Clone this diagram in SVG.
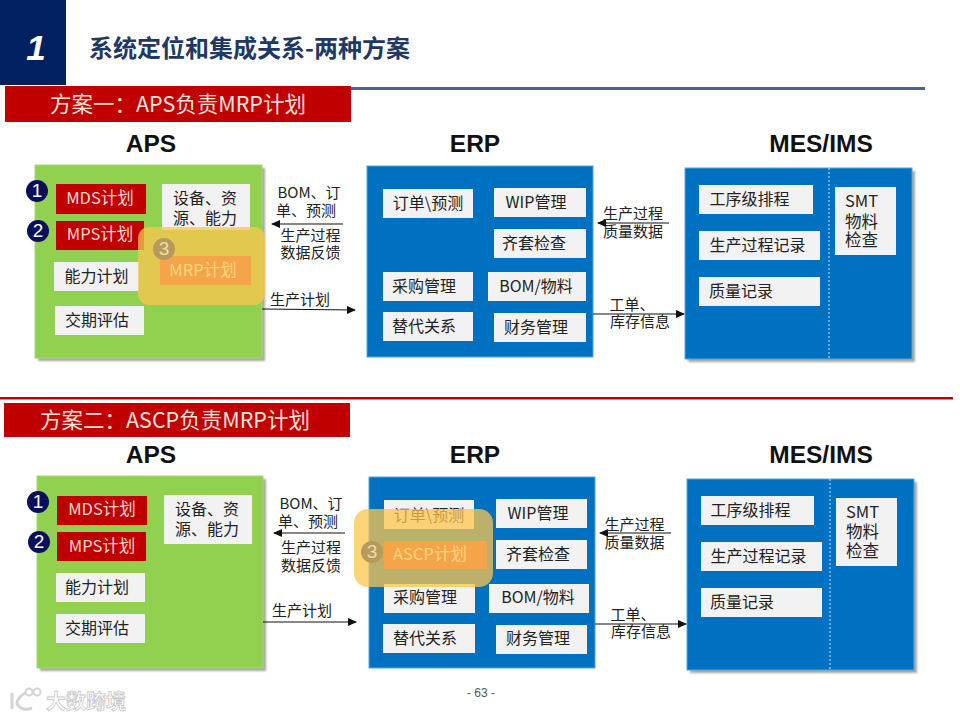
<svg xmlns="http://www.w3.org/2000/svg" width="960" height="720" viewBox="0 0 960 720">
<style>
text{font-family:"Liberation Sans","Noto Sans CJK SC",sans-serif}
.cjk{font-family:"Noto Sans CJK SC","Liberation Sans",sans-serif}
.h{font-size:24.5px;font-weight:700;fill:#111;text-anchor:middle;font-family:"Liberation Sans",sans-serif}
.banner{fill:#c00000}
.bt{font-size:21.5px;fill:#f6e3dc;font-family:"Noto Sans CJK SC",sans-serif}
.g{fill:#92d050;stroke:#a4d878;stroke-width:1}
.b{fill:#0070c0;stroke:#55a5d8;stroke-width:1}
.sh{fill:#7f8478;opacity:.7;filter:url(#blur)}
.w{fill:#f2f2f2}
.r{fill:#c00000}
.t{font-size:16px;fill:#222;text-anchor:middle;font-family:"Noto Sans CJK SC",sans-serif}
.tl{font-size:16.5px;fill:#222;font-family:"Noto Sans CJK SC",sans-serif}
.tr{font-size:16.5px;fill:#f8d8d0;text-anchor:middle;font-family:"Noto Sans CJK SC",sans-serif}
.to{font-size:16.5px;fill:#fff;text-anchor:middle;font-family:"Noto Sans CJK SC",sans-serif}
.l{font-size:15px;fill:#222;text-anchor:middle;font-family:"Noto Sans CJK SC",sans-serif}
.n{fill:#0a0f5c}
.nt{font-size:19px;fill:#fff;text-anchor:middle;font-family:"Liberation Sans",sans-serif}
.ov{fill:#fcc64e;opacity:.75}
.conn{stroke:#111;stroke-width:1.1;fill:none;marker-end:url(#a)}
.d{stroke:#cfe3f2;stroke-width:1;stroke-dasharray:2 2}
</style>
<defs>
<marker id="a" markerWidth="9" markerHeight="8" refX="8" refY="4" orient="auto" markerUnits="userSpaceOnUse"><path d="M0 0L9 4L0 8z" fill="#111"/></marker>
<filter id="blur" x="-5%" y="-5%" width="110%" height="110%"><feGaussianBlur stdDeviation="1"/></filter>
</defs>
<rect width="960" height="720" fill="#fff"/>

<g id="header">
<rect x="0" y="0" width="66" height="85" fill="#002060"/>
<text x="36" y="60" font-size="35" font-weight="700" font-style="italic" fill="#fff" text-anchor="middle">1</text>
<text x="89" y="57" font-size="24" font-weight="700" fill="#1f3864" class="cjk">系统定位和集成关系-两种方案</text>
<rect x="351" y="87" width="574" height="3" fill="#4a6199"/>
</g>
<g id="banner1"><rect class="banner" x="5" y="86" width="346" height="36"/><text class="bt" x="50" y="112">方案一：APS负责MRP计划</text></g>
<g id="divider"><rect x="0" y="397" width="953" height="2.5" fill="#c00000"/></g>
<g id="banner2"><rect class="banner" x="4" y="403" width="346" height="34"/><text class="bt" x="40" y="428">方案二：ASCP负责MRP计划</text></g>
<g id="titles">
<text class="h" x="151" y="152">APS</text><text class="h" x="475" y="152">ERP</text><text class="h" x="821" y="152">MES/IMS</text>
<text class="h" x="151" y="463">APS</text><text class="h" x="475" y="463">ERP</text><text class="h" x="821" y="463">MES/IMS</text>
</g>

<g id="aps1">
<rect class="sh" x="38" y="168" width="227" height="193"/><rect class="g" x="35" y="165" width="227" height="193"/>
<g id="aps1-mds"><rect class="r" x="56" y="184" width="90" height="30"/><text class="tr" x="100" y="204">MDS计划</text></g>
<g id="aps1-mps"><rect class="r" x="56" y="221" width="88" height="29"/><text class="tr" x="100" y="240">MPS计划</text></g>
<g id="aps1-cap"><rect class="w" x="54" y="262" width="85" height="29"/><text class="t" x="96.500" y="282">能力计划</text></g>
<g id="aps1-due"><rect class="w" x="55" y="306" width="89" height="29"/><text class="t" x="97" y="326">交期评估</text></g>
<g id="aps1-res"><rect class="w" x="162" y="184" width="88" height="46"/><text class="t" x="205" y="204">设备、资</text><text class="t" x="205" y="224">源、能力</text></g>
<g id="aps1-mrp"><rect fill="#e04242" x="160" y="256" width="91" height="29"/><text class="to" x="203" y="276">MRP计划</text></g>
<g id="aps1-highlight"><rect class="ov" x="138" y="227" width="127" height="78" rx="11"/></g>
<g id="aps1-badge1"><circle class="n" cx="37" cy="191" r="11"/><text class="nt" x="37" y="197">1</text></g>
<g id="aps1-badge2"><circle class="n" cx="38" cy="231" r="11"/><text class="nt" x="38" y="237">2</text></g>
<g id="aps1-badge3"><circle cx="164" cy="249" r="11" fill="#b59a5e"/><text class="nt" x="164" y="255" style="fill:#f3dca0">3</text></g>
</g>

<g id="erp1">
<rect class="b" x="367" y="166" width="226" height="191"/>
<g id="erp1-order"><rect class="w" x="383" y="189" width="90" height="29"/><text class="t" x="428" y="209">订单\预测</text></g>
<g id="erp1-wip"><rect class="w" x="494" y="188" width="92" height="29"/><text class="t" x="536" y="208">WIP管理</text></g>
<g id="erp1-kit"><rect class="w" x="494" y="229" width="92" height="29"/><text class="t" x="534" y="249">齐套检查</text></g>
<g id="erp1-buy"><rect class="w" x="383" y="272" width="90" height="29"/><text class="t" x="424" y="292">采购管理</text></g>
<g id="erp1-bom"><rect class="w" x="488" y="272" width="98" height="29"/><text class="t" x="536" y="292">BOM/物料</text></g>
<g id="erp1-sub"><rect class="w" x="383" y="312" width="90" height="29"/><text class="t" x="424" y="332">替代关系</text></g>
<g id="erp1-fin"><rect class="w" x="494" y="313" width="92" height="29"/><text class="t" x="536" y="333">财务管理</text></g>
</g>

<g id="mes1">
<rect class="sh" x="688" y="171" width="227" height="191"/><rect class="b" x="685" y="168" width="227" height="191"/>
<line class="d" x1="829" y1="168" x2="829" y2="359"/>
<g id="mes1-op"><rect class="w" x="699" y="185" width="114" height="29"/><text class="t" x="749.500" y="205">工序级排程</text></g>
<g id="mes1-rec"><rect class="w" x="699" y="231" width="121" height="29"/><text class="t" x="757.500" y="251">生产过程记录</text></g>
<g id="mes1-q"><rect class="w" x="699" y="277" width="121" height="29"/><text class="t" x="741" y="297">质量记录</text></g>
<g id="mes1-smt"><rect class="w" x="835" y="187" width="61" height="68"/><text class="tl" x="845" y="207">SMT</text><text class="tl" x="845" y="228">物料</text><text class="tl" x="845" y="246">检查</text></g>
</g>

<g id="aps2">
<rect class="sh" x="40" y="479" width="226" height="192"/><rect class="g" x="37" y="476" width="226" height="192"/>
<g id="aps2-mds"><rect class="r" x="57" y="496" width="90" height="29"/><text class="tr" x="102" y="515">MDS计划</text></g>
<g id="aps2-mps"><rect class="r" x="57" y="532" width="89" height="29"/><text class="tr" x="102" y="552">MPS计划</text></g>
<g id="aps2-cap"><rect class="w" x="56" y="573" width="89" height="29"/><text class="t" x="97" y="593">能力计划</text></g>
<g id="aps2-due"><rect class="w" x="56" y="614" width="89" height="29"/><text class="t" x="97" y="634">交期评估</text></g>
<g id="aps2-res"><rect class="w" x="164" y="495" width="88" height="49"/><text class="t" x="207" y="515">设备、资</text><text class="t" x="207" y="535">源、能力</text></g>
<g id="aps2-badge1"><circle class="n" cx="38" cy="502" r="11"/><text class="nt" x="38" y="508">1</text></g>
<g id="aps2-badge2"><circle class="n" cx="39" cy="542" r="11"/><text class="nt" x="39" y="548">2</text></g>
</g>

<g id="erp2">
<rect class="b" x="369" y="477" width="226" height="191"/>
<g id="erp2-order"><rect class="w" x="384" y="500" width="90" height="29"/><text class="t" x="429" y="521">订单\预测</text></g>
<g id="erp2-wip"><rect class="w" x="496" y="499" width="91" height="29"/><text class="t" x="538" y="519">WIP管理</text></g>
<g id="erp2-kit"><rect class="w" x="496" y="540" width="91" height="29"/><text class="t" x="538" y="560">齐套检查</text></g>
<g id="erp2-ascp"><rect fill="#e04242" x="384" y="541" width="103" height="28"/><text class="to" x="430" y="560">ASCP计划</text></g>
<g id="erp2-buy"><rect class="w" x="384" y="584" width="91" height="29"/><text class="t" x="425" y="603">采购管理</text></g>
<g id="erp2-bom"><rect class="w" x="489" y="584" width="100" height="29"/><text class="t" x="538" y="603">BOM/物料</text></g>
<g id="erp2-sub"><rect class="w" x="383" y="624" width="92" height="29"/><text class="t" x="425" y="644">替代关系</text></g>
<g id="erp2-fin"><rect class="w" x="496" y="625" width="91" height="29"/><text class="t" x="538" y="644">财务管理</text></g>
<g id="erp2-highlight"><rect class="ov" x="354" y="509" width="139" height="78" rx="14"/></g>
<g id="erp2-badge3"><circle cx="372" cy="552" r="11" fill="#b59a5e"/><text class="nt" x="372" y="558" style="fill:#f3dca0">3</text></g>
</g>

<g id="mes2">
<rect class="sh" x="690" y="482" width="227" height="191"/><rect class="b" x="687" y="479" width="227" height="191"/>
<line class="d" x1="830" y1="479" x2="830" y2="670"/>
<g id="mes2-op"><rect class="w" x="701" y="496" width="113" height="29"/><text class="t" x="750.500" y="516">工序级排程</text></g>
<g id="mes2-rec"><rect class="w" x="701" y="542" width="121" height="29"/><text class="t" x="758.500" y="562">生产过程记录</text></g>
<g id="mes2-q"><rect class="w" x="701" y="588" width="121" height="29"/><text class="t" x="742" y="608">质量记录</text></g>
<g id="mes2-smt"><rect class="w" x="836" y="498" width="61" height="68"/><text class="tl" x="846" y="518">SMT</text><text class="tl" x="846" y="538">物料</text><text class="tl" x="846" y="557">检查</text></g>
</g>

<g id="connectors">
<line class="conn" x1="343" y1="224" x2="272" y2="224"/>
<line class="conn" x1="262" y1="309" x2="355" y2="310"/>
<line class="conn" x1="669" y1="223" x2="598" y2="223"/>
<line class="conn" x1="593" y1="314" x2="684" y2="314"/>
<line class="conn" x1="345" y1="533" x2="274" y2="533"/>
<line class="conn" x1="263" y1="622" x2="356" y2="622"/>
<line class="conn" x1="671" y1="533" x2="600" y2="533"/>
<line class="conn" x1="595" y1="624" x2="686" y2="624"/>
</g>
<g id="connector-labels">
<text class="l" x="309" y="198">BOM、订</text><text class="l" x="306" y="216">单、预测</text><text class="l" x="310.500" y="241">生产过程</text><text class="l" x="310.500" y="258">数据反馈</text>
<text class="l" x="300" y="305">生产计划</text>
<text class="l" x="633" y="219">生产过程</text><text class="l" x="633" y="237">质量数据</text>
<text class="l" x="632" y="310">工单、</text><text class="l" x="640" y="327">库存信息</text>
<text class="l" x="311" y="509">BOM、订</text><text class="l" x="308" y="527">单、预测</text><text class="l" x="311" y="553">生产过程</text><text class="l" x="311" y="571">数据反馈</text>
<text class="l" x="302" y="616">生产计划</text>
<text class="l" x="634.500" y="530">生产过程</text><text class="l" x="634.500" y="548">质量数据</text>
<text class="l" x="633" y="620">工单、</text><text class="l" x="641" y="637">库存信息</text>
</g>

<g id="footer">
<text x="481" y="697" font-size="12" fill="#555" text-anchor="middle">- 63 -</text>
<path d="M12 693V709M25 693Q16 699 17 704Q22 712 32 708" fill="none" stroke="#d4d4d4" stroke-width="3"/>
<circle cx="29" cy="692" r="3.500" fill="none" stroke="#d4d4d4" stroke-width="2"/><circle cx="37" cy="692" r="3.500" fill="none" stroke="#d4d4d4" stroke-width="2"/>
<text x="46" y="709" font-size="20" font-weight="700" fill="#fff" stroke="#c8c8c8" stroke-width=".8" class="cjk">大数跨境</text>
</g>
</svg>
